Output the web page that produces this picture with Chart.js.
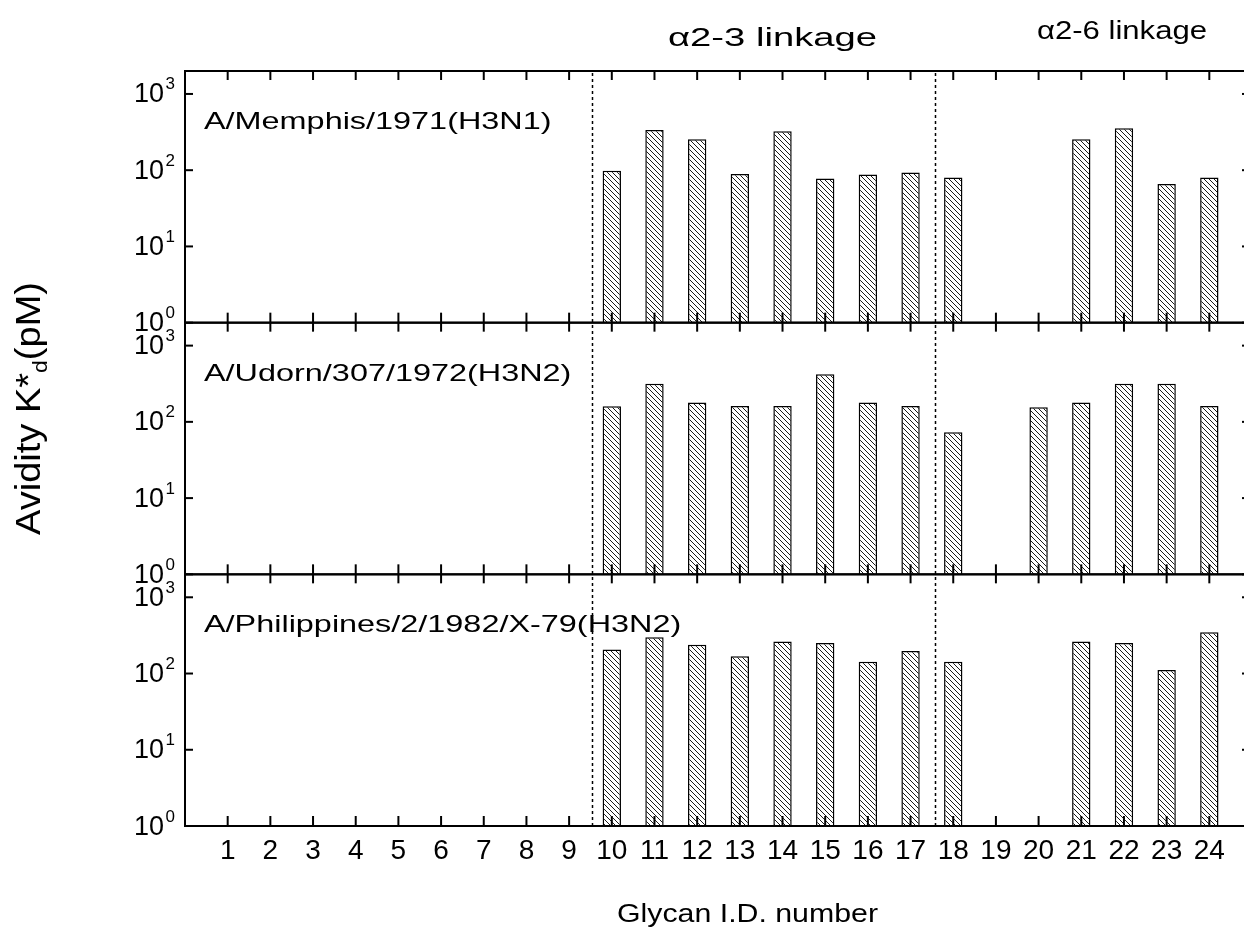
<!DOCTYPE html>
<html>
<head>
<meta charset="utf-8">
<title>Glycan avidity</title>
<script src="https://cdn.jsdelivr.net/npm/chart.js@4.4.1/dist/chart.umd.min.js"></script>
<style>
html, body { margin: 0; padding: 0; background: #fff; overflow: hidden; }
#avidityChart { display: block; }
</style>
</head>
<body>
<canvas id="avidityChart" width="1262" height="928"></canvas>
<script>
// glycan ids on the x axis, avidity K*d (pM) per strain, null = no binding
var glycanIds = [1, 2, 3, 4, 5, 6, 7, 8, 9, 10, 11, 12, 13, 14, 15, 16, 17, 18, 19, 20, 21, 22, 23, 24];
var memphisKd = [null, null, null, null, null, null, null, null, null, 98, 337, 255, 89, 325, 78, 88, 93, 80, null, null, 255, 355, 66, 80];
var udornKd = [null, null, null, null, null, null, null, null, null, 160, 317, 180, 162, 162, 420, 180, 162, 73, null, 155, 180, 317, 317, 162];
var philippinesKd = [null, null, null, null, null, null, null, null, null, 207, 300, 238, 169, 263, 252, 143, 197, 143, null, null, 263, 252, 111, 348];
var strainNames = ['A/Memphis/1971(H3N1)', 'A/Udorn/307/1972(H3N2)', 'A/Philippines/2/1982/X-79(H3N2)'];
var yTickValues = [1, 10, 100, 1000];
var linkageLabels = ['\u03b12-3 linkage', '\u03b12-6 linkage'];
var linkageBreaks = [9.53, 17.57];

var FONT = '"Liberation Sans", Arial, sans-serif';
var panelIds = ['yMemphis', 'yUdorn', 'yPhilippines'];

function makeHatch() {
    var c = document.createElement('canvas');
    c.width = 5;
    c.height = 5;
    var g = c.getContext('2d');
    g.fillStyle = '#fff';
    g.fillRect(0, 0, 5, 5);
    g.strokeStyle = '#1a1a1a';
    g.lineWidth = 1;
    g.beginPath();
    g.moveTo(-1, -1); g.lineTo(6, 6);
    g.moveTo(4, -1); g.lineTo(6, 1);
    g.moveTo(-1, 4); g.lineTo(1, 6);
    g.stroke();
    return g.createPattern(c, 'repeat');
}

function barSet(values, axisId, hatch) {
    var points = glycanIds.map(function (id, i) {
        return { x: id, y: values[i] };
    }).filter(function (p) { return p.y !== null; });
    return {
        data: points,
        xAxisID: 'x',
        yAxisID: axisId,
        grouped: false,
        categoryPercentage: 1,
        barPercentage: 0.43,
        backgroundColor: hatch,
        borderColor: '#000',
        borderWidth: 1.5
    };
}

function logAxis(weight) {
    return {
        type: 'logarithmic',
        min: 1,
        max: 2000,
        position: 'left',
        stack: 'panels',
        stackWeight: 1,
        weight: weight,
        grid: { display: false },
        border: { display: false },
        ticks: { display: false },
        afterBuildTicks: function (s) {
            s.ticks = yTickValues.map(function (v) { return { value: v }; });
        },
        afterFit: function (s) { s.width = 0; }
    };
}

function line(ctx, x1, y1, x2, y2) {
    ctx.beginPath();
    ctx.moveTo(x1, y1);
    ctx.lineTo(x2, y2);
    ctx.stroke();
}

// text stretched horizontally, like the original figure
function stretchText(ctx, text, x, y, size, sx, align) {
    ctx.save();
    ctx.font = size + 'px ' + FONT;
    ctx.textAlign = align;
    ctx.textBaseline = 'alphabetic';
    ctx.translate(x, y);
    ctx.scale(sx, 1);
    ctx.fillText(text, 0, 0);
    ctx.restore();
}

function fitText(ctx, text, cx, y, size, width) {
    ctx.save();
    ctx.font = size + 'px ' + FONT;
    var sx = width / ctx.measureText(text).width;
    ctx.restore();
    stretchText(ctx, text, cx, y, size, sx, 'center');
}

var framePlugin = {
    id: 'frames',
    afterDraw: function (chart) {
        var ctx = chart.ctx;
        var area = chart.chartArea;
        var xs = chart.scales.x;
        ctx.save();
        ctx.strokeStyle = '#000';
        ctx.fillStyle = '#000';

        // dotted separators between glycan groups
        ctx.lineWidth = 1.5;
        ctx.setLineDash([3, 3]);
        linkageBreaks.forEach(function (v) {
            var px = Math.round(xs.getPixelForValue(v)) + 0.5;
            line(ctx, px, area.top + 2, px, area.bottom);
        });
        ctx.setLineDash([]);

        panelIds.forEach(function (id, k) {
            var ys = chart.scales[id];
            ctx.lineWidth = 2;
            ctx.strokeRect(area.left, ys.top, area.right - area.left, ys.bottom - ys.top);
            glycanIds.forEach(function (v) {
                var px = xs.getPixelForValue(v);
                line(ctx, px, ys.bottom, px, ys.bottom - 10);
                line(ctx, px, ys.top, px, ys.top + 9);
            });
            ys.ticks.forEach(function (t) {
                var py = ys.getPixelForValue(t.value);
                line(ctx, area.left, py, area.left + 8, py);
                line(ctx, area.right, py, area.right - 10, py);
                ctx.font = '27px ' + FONT;
                ctx.textAlign = 'right';
                ctx.textBaseline = 'alphabetic';
                ctx.fillText('10', 164, py + 8.5);
                ctx.font = '17px ' + FONT;
                ctx.textAlign = 'left';
                ctx.fillText(String(Math.round(Math.log10(t.value))), 165.5, py - 4.5);
            });
            stretchText(ctx, strainNames[k], 204, ys.top + 58, 24, 1.35, 'left');
        });

        fitText(ctx, linkageLabels[0], 772.5, 46, 25, 209);
        fitText(ctx, linkageLabels[1], 1122, 39, 25, 170);
        fitText(ctx, 'Glycan I.D. number', 747.5, 922, 25, 261);

        // y title with subscript d
        var big = '35px ' + FONT, small = '21px ' + FONT;
        var parts = [['Avidity K*', big, 0], ['d', small, 7], ['(pM)', big, 0]];
        var total = 0;
        parts.forEach(function (p) { ctx.font = p[1]; p.push(ctx.measureText(p[0]).width); total += p[3]; });
        var sx = 253 / total;
        ctx.save();
        ctx.translate(40, 408.5);
        ctx.rotate(-Math.PI / 2);
        ctx.scale(sx, 1);
        ctx.textAlign = 'left';
        ctx.textBaseline = 'alphabetic';
        var pos = -total / 2;
        parts.forEach(function (p) {
            ctx.font = p[1];
            ctx.fillText(p[0], pos, p[2]);
            pos += p[3];
        });
        ctx.restore();
        ctx.restore();
    }
};

var canvas = document.getElementById('avidityChart');
var hatch = makeHatch();
var chart = new Chart(canvas, {
    type: 'bar',
    data: {
        datasets: [
            barSet(memphisKd, 'yMemphis', hatch),
            barSet(udornKd, 'yUdorn', hatch),
            barSet(philippinesKd, 'yPhilippines', hatch)
        ]
    },
    options: {
        responsive: false,
        animation: false,
        devicePixelRatio: 1,
        layout: { padding: { left: 185, right: 10, top: 71, bottom: 62 } },
        plugins: { legend: { display: false }, tooltip: { enabled: false } },
        scales: {
            x: {
                type: 'linear',
                min: 0,
                max: 25,
                offset: false,
                position: 'bottom',
                grid: { display: false, offset: false },
                border: { display: false },
                afterBuildTicks: function (s) {
                    s.ticks = glycanIds.map(function (v) { return { value: v }; });
                },
                afterFit: function (s) { s.height = 40; },
                ticks: {
                    color: '#000',
                    padding: 0,
                    autoSkip: false,
                    maxRotation: 0,
                    font: { family: FONT, size: 28 }
                }
            },
            yMemphis: logAxis(3),
            yUdorn: logAxis(2),
            yPhilippines: logAxis(1)
        }
    },
    plugins: [framePlugin]
});
</script>
</body>
</html>
